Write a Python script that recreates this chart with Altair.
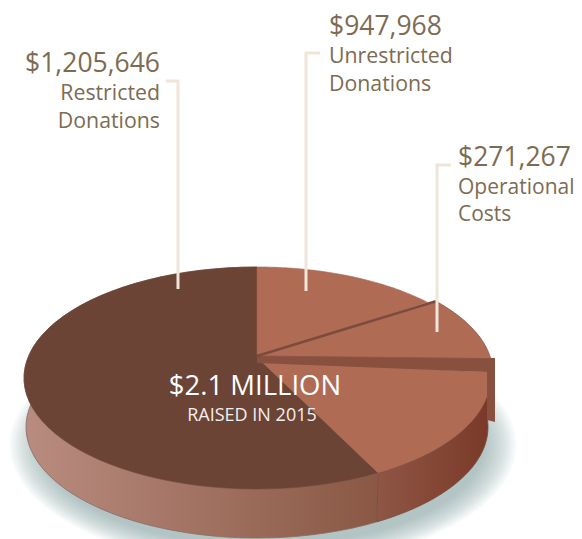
import math
import altair as alt
import pandas as pd

amounts = ["$1,205,646", "$947,968", "$271,267"]
first_lines = ["Restricted", "Unrestricted", "Operational"]
second_lines = ["Donations", "Donations", "Costs"]
centre_title = "$2.1 MILLION"
centre_sub = "RAISED IN 2015"
# where each slice starts / ends on the rim, in degrees clockwise from the top
rim_unrestricted = [0, 47]
rim_operational = [49, 82]
rim_lower = [87, 148.7]

W, H = 566, 531
X = alt.X("x:Q", scale=alt.Scale(domain=[8, 574], nice=False, zero=False), axis=None)
Y = alt.Y("y:Q", scale=alt.Scale(domain=[539, 8], nice=False, zero=False), axis=None)

CX, CY, RX, RY = 257, 378, 233, 111
BX, BY, BRX, BRY = 257, 427, 231, 111
APEX = (257, 356)


def rim(t0, t1, cx=CX, cy=CY, rx=RX, ry=RY, n=60):
    out = []
    for i in range(n + 1):
        t = math.radians(t0 + (t1 - t0) * i / n)
        out.append((cx + rx * math.sin(t), cy - ry * math.cos(t)))
    return out


def poly(points, fill, stroke=None, sw=0, opacity=1):
    pts = list(points) + [points[0]]
    df = pd.DataFrame({"x": [p[0] for p in pts], "y": [p[1] for p in pts], "o": range(len(pts))})
    kw = dict(fill=fill, fillOpacity=opacity, strokeWidth=sw, stroke=stroke if stroke else "transparent",
              interpolate="linear", strokeJoin="round")
    return alt.Chart(df).mark_line(**kw).encode(x=X, y=Y, order="o:Q")


def path(points, color, sw):
    df = pd.DataFrame({"x": [p[0] for p in points], "y": [p[1] for p in points], "o": range(len(points))})
    return alt.Chart(df).mark_line(color=color, strokeWidth=sw, strokeJoin="miter", strokeCap="butt").encode(
        x=X, y=Y, order="o:Q")


def grad(c0, c1):
    return alt.LinearGradient(gradient="linear", x1=0, y1=0, x2=1, y2=0,
                              stops=[alt.GradientStop(color=c0, offset=0), alt.GradientStop(color=c1, offset=1)])


def text(s, x, y, size, color, align):
    df = pd.DataFrame({"x": [x], "y": [y], "t": [s]})
    return alt.Chart(df).mark_text(font="Open Sans", fontSize=size, color=color, align=align,
                                   baseline="alphabetic").encode(x=X, y=Y, text="t:N")


layers = []

# soft drop shadow
for i in range(26):
    f = i / 25
    layers.append(poly(rim(0, 360, 263, 445, 254 - f * 34, 122 - f * 22), "#979da1", opacity=0.035))

# side walls
left_wall = rim(rim_lower[1], 360) + rim(360, rim_lower[1], BX, BY, BRX, BRY)
layers.append(poly(left_wall, grad("#b88c80", "#8a5844"), "#8a6a60", 0.8))
right_wall = rim(rim_lower[0], rim_lower[1]) + rim(rim_lower[1], rim_lower[0], BX, BY, BRX, BRY)
layers.append(poly(right_wall, grad("#8f5645", "#7a3928"), "#7a4a3a", 0.8))

# top faces
LOWER_APEX = (261, 361)
layers.append(poly([APEX] + rim(360, rim_lower[1]) + [LOWER_APEX], "#6b4435", "#6b4435", 0.5))
layers.append(poly([APEX] + rim(*rim_unrestricted), "#b06b55", "#a5614c", 0.6))
layers.append(poly([LOWER_APEX] + rim(*rim_lower), "#b06b55", "#a5614c", 0.6))

# lifted operational slice: its side and the slice itself
layers.append(poly([(257, 354), (495, 358), (495, 422), (487, 420), (487, 372), (257, 363)], "#88503e"))
layers.append(poly([APEX] + rim(*rim_operational, cx=CX + 3, cy=CY - 4), "#b06b55", "#8a5442", 0.8))
layers.append(path([APEX, rim(*rim_operational, cx=CX + 3, cy=CY - 4)[0]], "#7e4a3b", 2.6))

# leader lines
layers.append(path([(166, 81), (178, 81), (178, 289)], "#efe6da", 3))
layers.append(path([(320, 53), (306, 53), (306, 291)], "#efe6da", 3))
layers.append(path([(451, 165), (437, 165), (437, 332)], "#efe6da", 3))

# labels
TXT = "#7d6b53"
layers += [
    text(amounts[0], 160, 72, 26.5, TXT, "right"),
    text(first_lines[0], 160, 100, 21.3, TXT, "right"),
    text(second_lines[0], 160, 128, 21.3, TXT, "right"),
    text(amounts[1], 329, 35, 26.5, TXT, "left"),
    text(first_lines[1], 329, 63, 21.3, TXT, "left"),
    text(second_lines[1], 329, 91, 21.3, TXT, "left"),
    text(amounts[2], 458, 166, 26.5, TXT, "left"),
    text(first_lines[2], 458, 194, 21, TXT, "left"),
    text(second_lines[2], 458, 221, 21, TXT, "left"),
    text(centre_title, 255, 395, 27.5, "#ffffff", "center"),
    text(centre_sub, 252, 421, 18, "#f4eeee", "center"),
]

chart = alt.layer(*layers).properties(
    width=W, height=H, padding=0, autosize=alt.AutoSizeParams(type="none")
).configure_view(stroke=None)

chart.save("out.html", embed_options={"renderer": "svg", "actions": False})
